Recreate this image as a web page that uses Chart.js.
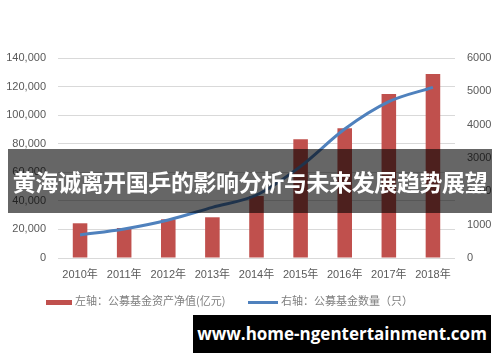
<!DOCTYPE html>
<html>
<head>
<meta charset="utf-8">
<script src="https://cdn.jsdelivr.net/npm/chart.js@4"></script>
<style>
  body { margin: 0; background: #fff; }
  #wrap { position: relative; width: 500px; height: 362px; overflow: hidden; }
  #fundChart { position: absolute; left: 0; top: 0; }
  #legend { position: absolute; top: 290px; left: 46px; font: 11px "Noto Sans CJK SC", sans-serif; color: #7f7f7f; white-space: nowrap; }
  #legend span.item { display: inline-block; vertical-align: middle; }
  #legend .sw { display: inline-block; vertical-align: middle; margin-right: 3px; }
  #banner { position: absolute; left: 8px; top: 149px; width: 484px; height: 64px; background: rgba(0,0,0,0.6);
    color: #fff; font: bold 23px "Noto Sans CJK SC", sans-serif; line-height: 64px; text-align: center; white-space: nowrap; letter-spacing: -0.4px; }
  #mark { position: absolute; left: 193px; top: 315px; width: 298px; height: 38px; background: #000;
    color: #fff; font: bold 17px "Open Sans", "DejaVu Sans", sans-serif; line-height: 38px; text-align: center; white-space: nowrap; }
</style>
</head>
<body>
<div id="wrap">
  <canvas id="fundChart" width="500" height="362"></canvas>
  <div id="legend">
    <span class="item"><span class="sw" style="width:26px;height:5px;background:#c0504d"></span>左轴：公募基金资产净值(亿元)</span>
    <span class="item" style="margin-left:20px"><span class="sw" style="width:30px;height:3px;background:#4f81bd"></span>右轴：公募基金数量（只）</span>
  </div>
  <div id="banner">黄海诚离开国乒的影响分析与未来发展趋势展望</div>
  <div id="mark">www.home-ngentertainment.com</div>
</div>
<script>
const years = ["2010年", "2011年", "2012年", "2013年", "2014年", "2015年", "2016年", "2017年", "2018年"];
const netAssets = [24300, 21000, 27100, 28500, 43400, 83100, 90800, 114800, 128800];
const fundCount = [690, 870, 1140, 1520, 1890, 2750, 3870, 4690, 5120];
const leftTicks = [0, 20000, 40000, 60000, 80000, 100000, 120000, 140000];
const rightTicks = [0, 1000, 2000, 3000, 4000, 5000, 6000];

const tickFont = { family: "'Liberation Sans', 'Noto Sans CJK SC', sans-serif", size: 11 };
const tickColor = '#595959';

new Chart(document.getElementById('fundChart').getContext('2d'), {
  data: {
    labels: years,
    datasets: [
      {
        type: 'line',
        label: '右轴：公募基金数量（只）',
        data: fundCount,
        yAxisID: 'yRight',
        borderColor: '#4f81bd',
        borderWidth: 3,
        pointRadius: 0,
        tension: 0.4,
        cubicInterpolationMode: 'monotone',
        order: 0
      },
      {
        type: 'bar',
        label: '左轴：公募基金资产净值(亿元)',
        data: netAssets,
        yAxisID: 'yLeft',
        backgroundColor: '#c0504d',
        categoryPercentage: 1,
        barPercentage: 0.33,
        order: 1
      }
    ]
  },
  options: {
    responsive: false,
    animation: false,
    layout: { padding: { top: 58, left: 0, right: 0, bottom: 0 } },
    plugins: { legend: { display: false }, tooltip: { enabled: false } },
    scales: {
      x: {
        grid: { display: false },
        border: { display: false },
        ticks: { color: tickColor, font: tickFont, padding: 2, maxRotation: 0, autoSkip: false },
        afterFit: s => { s.height = 104; }
      },
      yLeft: {
        position: 'left',
        min: 0, max: 140000,
        afterBuildTicks: s => { s.ticks = leftTicks.map(v => ({ value: v })); },
        ticks: { color: tickColor, font: tickFont, padding: 12, callback: v => v.toLocaleString('en-US') },
        grid: { color: '#d9d9d9', drawTicks: false },
        border: { display: false },
        afterFit: s => { s.width = 58; }
      },
      yRight: {
        position: 'right',
        min: 0, max: 6000,
        afterBuildTicks: s => { s.ticks = rightTicks.map(v => ({ value: v })); },
        ticks: { color: tickColor, font: tickFont, padding: 12, callback: v => String(v) },
        grid: { display: false, drawTicks: false },
        border: { display: false },
        afterFit: s => { s.width = 45; }
      }
    }
  }
});
</script>
</body>
</html>
